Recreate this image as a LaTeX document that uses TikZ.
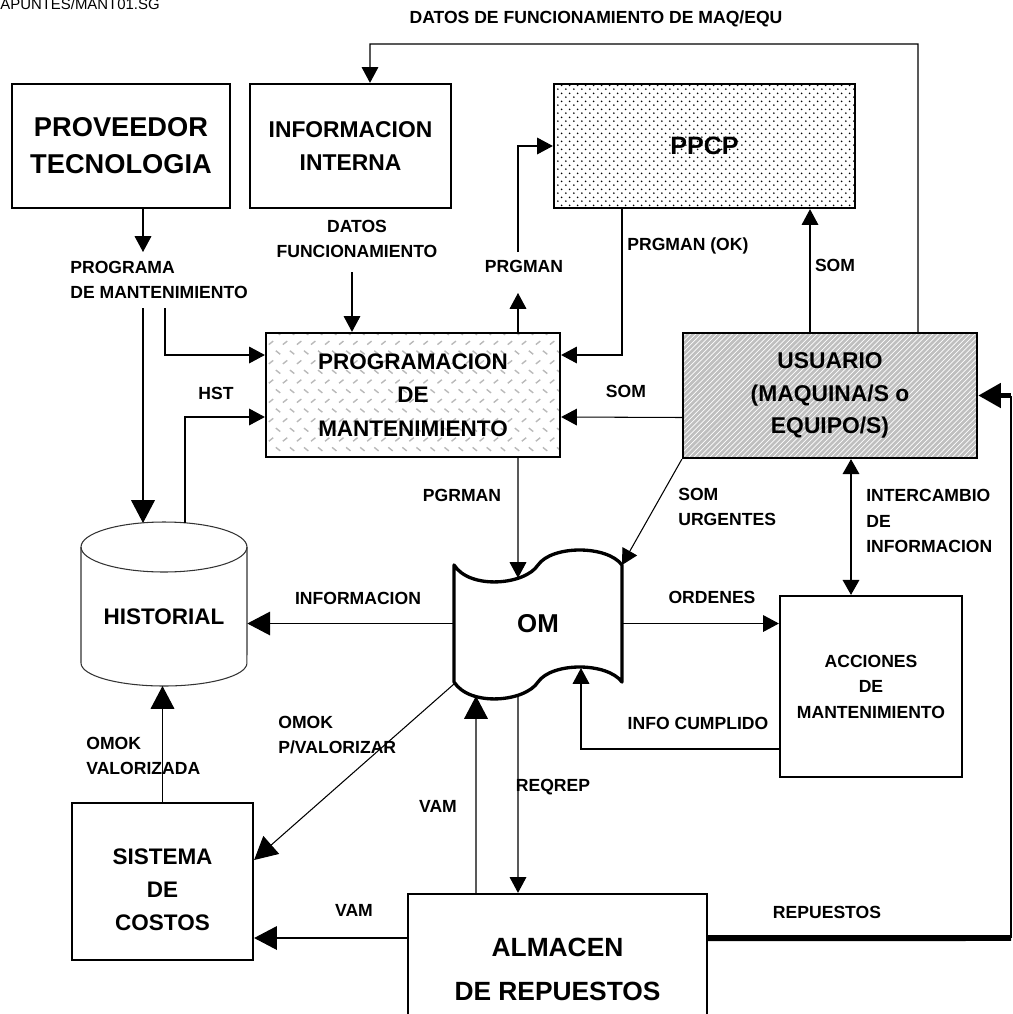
\documentclass[tikz,border=0pt]{standalone}
\usepackage{fontspec}
\setmainfont{Liberation Sans}
\usetikzlibrary{arrows.meta,patterns}

\pgfdeclarepatternformonly{puntos}{\pgfqpoint{0pt}{0pt}}{\pgfqpoint{4.4pt}{4.4pt}}{\pgfqpoint{4.4pt}{4.4pt}}{%
  \pgfpathcircle{\pgfqpoint{1.1pt}{1.1pt}}{0.55pt}
  \pgfpathcircle{\pgfqpoint{3.3pt}{3.3pt}}{0.55pt}
  \pgfusepath{fill}}
\pgfdeclarepatternformonly{placa}{\pgfqpoint{-1pt}{-1pt}}{\pgfqpoint{9pt}{12pt}}{\pgfqpoint{8pt}{11pt}}{%
  \pgfsetlinewidth{0.8pt}
  \pgfpathmoveto{\pgfqpoint{1pt}{7pt}}\pgfpathlineto{\pgfqpoint{3.5pt}{9pt}}
  \pgfpathmoveto{\pgfqpoint{5pt}{3.5pt}}\pgfpathlineto{\pgfqpoint{7.5pt}{1.5pt}}
  \pgfusepath{stroke}}

\begin{document}
\begin{tikzpicture}[x=0.02cm,y=-0.02cm]
\tikzset{
  caja/.style={draw, line width=1.3pt, inner sep=0pt, align=center},
  etiq/.style={inner sep=0pt, align=left, font=\bfseries\fontsize{10}{14.5}\selectfont},
  conector/.style={line width=0.6pt},
  flecha/.style={conector, -{Triangle[length=9pt,width=9.5pt]}},
  flechag/.style={conector, -{Triangle[length=13pt,width=13.5pt]}},
  doble/.style={conector, {Triangle[length=8.5pt,width=9.5pt]}-{Triangle[length=8.5pt,width=9.5pt]}},
  grueso/.style={line width=3.4pt},
  cilindro/.style={line width=0.6pt, draw=black!80}
}
\useasboundingbox (0,0) rectangle (1013,1014);

\node[anchor=base west, inner sep=0pt, font=\fontsize{8.5}{10}\selectfont] (arch) at (0,10) {APUNTES/MANT01.SG};

\node[caja, minimum width=4.36cm, minimum height=2.48cm, font=\bfseries\fontsize{15.5}{21}\selectfont] (prov) at (121,146) {PROVEEDOR\\TECNOLOGIA};
\node[caja, minimum width=4.02cm, minimum height=2.48cm, font=\bfseries\fontsize{13}{19}\selectfont] (info) at (350.5,146) {INFORMACION\\INTERNA};
\node[caja, minimum width=6.02cm, minimum height=2.48cm, pattern=puntos, font=\bfseries\fontsize{14.3}{17}\selectfont] (ppcp) at (704.5,146) {PPCP};
\node[caja, minimum width=5.88cm, minimum height=2.48cm, pattern=placa, pattern color=gray!55, font=\bfseries\fontsize{12.8}{19}\selectfont] (prog) at (413,395) {PROGRAMACION\\DE\\MANTENIMIENTO};
\node[caja, minimum width=5.88cm, minimum height=2.5cm, preaction={fill=gray!50}, pattern=north east lines, pattern color=white, font=\bfseries\fontsize{13}{18.5}\selectfont] (usu) at (830,395.5) {USUARIO\\(MAQUINA/S o\\EQUIPO/S)};
\node[minimum width=3.32cm, minimum height=2.78cm, inner sep=0pt, font=\bfseries\fontsize{12.8}{15}\selectfont] (hist) at (164,616.5) {HISTORIAL};
\node[minimum width=3.36cm, minimum height=2.34cm, inner sep=0pt, font=\bfseries\fontsize{14.7}{17}\selectfont] (om) at (538,623.5) {OM};
\node[caja, minimum width=3.64cm, minimum height=3.62cm, font=\bfseries\fontsize{10}{14.5}\selectfont] (acc) at (871,686.5) {ACCIONES\\DE\\MANTENIMIENTO};
\node[caja, minimum width=3.62cm, minimum height=3.14cm, label={[align=center, yshift=-0.17cm, font=\bfseries\fontsize{12.8}{18.7}\selectfont]center:SISTEMA\\DE\\COSTOS}] (sis) at (162.5,881.5) {};
\node[caja, minimum width=5.98cm, minimum height=2.64cm, label={[align=center, yshift=-0.18cm, font=\bfseries\fontsize{15}{25}\selectfont]center:ALMACEN\\DE REPUESTOS}] (alm) at (557.5,960) {};

\draw[cilindro] (164,547) ellipse[x radius=1.66cm, y radius=0.5cm];
\draw[cilindro] (81,547) -- (81,663) arc[start angle=180, end angle=360, x radius=1.66cm, y radius=0.46cm] -- (247,547);
\draw[line width=1.9pt, line join=round] (454,565) .. controls (470,590) and (525,585) .. (538,565) .. controls (552,545) and (607,545) .. (622,565) -- (622,682) .. controls (607,662) and (552,662) .. (538,682) .. controls (525,702) and (470,707) .. (454,682) -- cycle;

\coordinate (pm) at (143,252);
\coordinate (pm2) at (143,308);
\coordinate (pm3) at (165,308);
\coordinate (h1) at (143,523);
\coordinate (h2) at (185,523);
\coordinate (h3) at (162.5,686);
\coordinate (df) at (352,272);
\coordinate (pg) at (518,293);
\coordinate (pg2) at (518,252);
\coordinate (lt) at (918,44);
\coordinate (om1) at (518,578);
\coordinate (om2) at (622,565);
\coordinate (om3) at (581,668);
\coordinate (om4) at (454,684);
\coordinate (om5) at (476,696);
\coordinate (om6) at (518,695);
\coordinate (r1) at (1011,938);
\coordinate (r2) at (1011,395.5);

\node[etiq, align=center] (ltop) at (596,19) {DATOS DE FUNCIONAMIENTO DE MAQ/EQU};
\node[etiq, anchor=west] (lprog) at (70,280) {PROGRAMA\\DE MANTENIMIENTO};
\node[etiq] (lhst) at (216,393) {HST};
\node[etiq, align=center] (ldatos) at (357,239) {DATOS\\FUNCIONAMIENTO};
\node[etiq] (lprg) at (524,266) {PRGMAN};
\node[etiq, anchor=west] (lprgok) at (627,246) {PRGMAN (OK)};
\node[etiq] (lsom1) at (835,265) {SOM};
\node[etiq] (lsom2) at (626,391) {SOM};
\node[etiq] (lpgr) at (462,495) {PGRMAN};
\node[etiq, anchor=west] (lsomu) at (678,507) {SOM\\URGENTES};
\node[etiq, anchor=west] (linter) at (866,521) {INTERCAMBIO\\DE\\INFORMACION};
\node[etiq] (linfo) at (358,598) {INFORMACION};
\node[etiq] (lord) at (712,597) {ORDENES};
\node[etiq] (lcump) at (698,723) {INFO CUMPLIDO};
\node[etiq, anchor=west] (lomok) at (278,735) {OMOK\\P/VALORIZAR};
\node[etiq, anchor=west] (lomokv) at (86,756) {OMOK\\VALORIZADA};
\node[etiq] (lvam1) at (438,806) {VAM};
\node[etiq] (lreq) at (553,787) {REQREP};
\node[etiq] (lvam2) at (354,910) {VAM};
\node[etiq] (lrep) at (827,912) {REPUESTOS};

\draw[flecha] (prov.south -| pm) -- (pm);
\draw[flechag] (pm2) -- (h1);
\draw[flecha] (pm3) |- ([yshift=0.8cm]prog.west);
\draw[flecha] (h2) |- ([yshift=-0.44cm]prog.west);
\draw[flecha] (df) -- (df |- prog.north);
\draw[flecha] (pg |- prog.north) -- (pg);
\draw[flecha] (pg2) |- (ppcp.west);
\draw[flecha] ([xshift=-1.65cm]ppcp.south) |- ([yshift=0.8cm]prog.east);
\draw[flecha] ([xshift=-0.4cm]usu.north) -- ([xshift=-0.4cm]usu.north |- ppcp.south);
\draw[flecha] ([yshift=-0.44cm]usu.west) -- ([yshift=-0.44cm]prog.east);
\draw[flecha] ([xshift=1.76cm]usu.north) -- (lt) -| ([xshift=0.39cm]info.north);
\draw[flecha] ([xshift=2.1cm]prog.south) -- (om1);
\draw[flecha] (usu.south west) -- (om2);
\draw[doble] ([xshift=0.42cm]usu.south) -- ([xshift=0.42cm]usu.south |- acc.north);
\draw[flechag] (om.west) -- (om.west -| hist.east);
\draw[flecha] (om.east) -- (om.east -| acc.west);
\draw[flecha] ([yshift=-1.25cm]acc.west) -| (om3);
\draw[flechag] (om4) -- ([yshift=0.43cm]sis.east);
\draw[flechag] (sis.north) -- (h3);
\draw[flechag] ([xshift=-1.63cm]alm.north) -- (om5);
\draw[flecha] (om6) -- ([xshift=-0.79cm]alm.north);
\draw[flechag] ([yshift=0.44cm]alm.west) -- ([yshift=0.44cm]alm.west -| sis.east);
\draw[grueso] ([yshift=0.44cm]alm.east) -- (r1);
\draw[conector] (r1) -- (r2);
\draw[grueso, -{Triangle[length=13pt,width=13.5pt]}] (r2) -- (usu.east);
\end{tikzpicture}
\end{document}
